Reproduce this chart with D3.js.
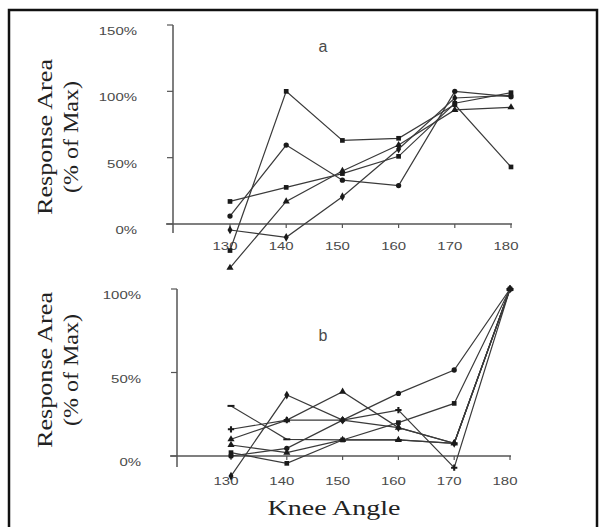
<!DOCTYPE html>
<html>
<head>
<meta charset="utf-8">
<script src="https://cdn.jsdelivr.net/npm/d3@7"></script>
<style>
  body { margin: 0; background: #fff; }
  .tick-label { font-family: "Liberation Sans", Arial, sans-serif; font-size: 11.5px; fill: #4a4a4a; }
  .axis-title { font-family: "Liberation Serif", "DejaVu Serif", serif; font-size: 21px; fill: #222; }
  .panel-letter { font-family: "Liberation Sans", Arial, sans-serif; font-size: 16px; fill: #4a4a4a; }
</style>
</head>
<body>
<div id="chart"></div>
<script>
// knee angles shared by both panels
const angles = [130, 140, 150, 160, 170, 180];

// panel a, response area in % of max
const seriesA = [
  [17, 27.6, 38, 51, 91, 99],
  [6, 59.5, 33, 29, 100, 96],
  [-20, 100, 63, 64.6, 90, 43],
  [-33, 17, 40, 59.5, 86, 88],
  [-4.5, -10, 20.6, 56.5, 95, 97]
];
const symbolsA = ["square", "circle", "square", "triangle", "diamond"];
const ticksA = [0, 50, 100, 150];

// panel b
const seriesB = [
  [30, 10, 9.6, 9.6, 7.6, 100],
  [16, 21.5, 21.5, 27.5, -7, 100],
  [6.6, 2, 9.6, 9.6, 7.6, 100],
  [0, 4.6, 21.5, 37.5, 51.5, 100],
  [-12, 36.5, 21.5, 17, 7.6, 100],
  [2, -4.4, 9.6, 20, 31.5, 100],
  [10, 21.5, 38.5, 17, 7.6, 100]
];
const symbolsB = ["dash", "cross", "triangle", "circle", "diamond", "square", "triangle"];
const ticksB = [0, 50, 100];

const width = 605, height = 527;

let svg = d3.select("#chart").append("svg")
  .attr("width", width)
  .attr("height", height);

// outer frame
svg.append("rect")
  .attr("x", 9).attr("y", 10)
  .attr("width", 588).attr("height", 540)
  .attr("fill", "none")
  .attr("stroke", "#111")
  .attr("stroke-width", 2.5);

const symbolTypes = {
  square: d3.symbolSquare,
  circle: d3.symbolCircle,
  triangle: d3.symbolTriangle,
  diamond: d3.symbolDiamond,
  cross: d3.symbolCross
};

// the tick font in the picture is wide, so stretch it a bit
function tickText(sel, tx, ty, anchor) {
  sel.attr("class", "tick-label")
    .attr("text-anchor", anchor)
    .attr("transform", (d, i) => "translate(" + tx(d) + "," + ty(d) + ") scale(1.3,1)");
}

function drawPanel(opts) {
  let x = d3.scaleLinear().domain([130, 180]).range([opts.x0, opts.x1]);
  let y = d3.scaleLinear().domain([0, opts.yMax]).range([opts.y0, opts.yTop]);
  let g = svg.append("g");

  // axes, drawn by hand to get the overhanging ends
  g.append("line")
    .attr("x1", opts.yAxisX).attr("x2", opts.yAxisX)
    .attr("y1", opts.yTop).attr("y2", opts.y0 + opts.overhang)
    .attr("stroke", "#555").attr("stroke-width", 1.5);
  g.append("line")
    .attr("x1", opts.yAxisX - 7).attr("x2", x(180) + 1)
    .attr("y1", opts.y0).attr("y2", opts.y0)
    .attr("stroke", "#555").attr("stroke-width", 1.5);

  g.selectAll(".ytick").data(opts.ticks).enter().append("line")
    .attr("x1", opts.yAxisX - 6).attr("x2", opts.yAxisX)
    .attr("y1", d => y(d)).attr("y2", d => y(d))
    .attr("stroke", "#555").attr("stroke-width", 1.2);
  g.selectAll(".ylab").data(opts.ticks).enter().append("text")
    .call(tickText, () => opts.yAxisX - 36, d => y(d) + 10, "end")
    .text(d => d + "%");

  g.selectAll(".xtick").data(angles).enter().append("line")
    .attr("x1", d => x(d)).attr("x2", d => x(d))
    .attr("y1", opts.y0).attr("y2", opts.y0 + 4)
    .attr("stroke", "#555").attr("stroke-width", 1.2);
  g.selectAll(".xlab").data(angles).enter().append("text")
    .call(tickText, d => x(d) - 5, () => opts.y0 + opts.xLabDy, "middle")
    .text(d => d);

  // series
  let line = d3.line().x((d, i) => x(angles[i])).y(d => y(d));
  opts.series.forEach((s, k) => {
    g.append("path")
      .datum(s)
      .attr("d", line)
      .attr("fill", "none")
      .attr("stroke", "#3a3a3a")
      .attr("stroke-width", 1.2);
    let sym = opts.symbols[k];
    g.selectAll(null).data(s).enter().append("path")
      .attr("transform", (d, i) => "translate(" + x(angles[i]) + "," + y(d) + ")")
      .attr("d", sym === "dash"
        ? "M-3.5,-1H3.5V1H-3.5Z"
        : d3.symbol().type(symbolTypes[sym]).size(22)())
      .attr("fill", "#1a1a1a");
  });

  // panel letter
  g.append("text")
    .attr("class", "panel-letter")
    .attr("x", opts.letterX).attr("y", opts.letterY)
    .attr("text-anchor", "middle")
    .text(opts.letter);

  // y title, two lines
  let cy = opts.titleY;
  g.append("text")
    .attr("class", "axis-title")
    .attr("transform", "translate(52," + cy + ") rotate(-90)")
    .attr("text-anchor", "middle")
    .attr("textLength", 156)
    .attr("lengthAdjust", "spacingAndGlyphs")
    .text("Response Area");
  g.append("text")
    .attr("class", "axis-title")
    .attr("transform", "translate(78," + cy + ") rotate(-90)")
    .attr("text-anchor", "middle")
    .attr("textLength", 112)
    .attr("lengthAdjust", "spacingAndGlyphs")
    .text("(% of Max)");
}

drawPanel({
  series: seriesA, symbols: symbolsA, ticks: ticksA, yMax: 150,
  x0: 230, x1: 511, y0: 224, yTop: 25, yAxisX: 173, overhang: 9, xLabDy: 26,
  letter: "a", letterX: 323, letterY: 52, titleY: 137
});

drawPanel({
  series: seriesB, symbols: symbolsB, ticks: ticksB, yMax: 100,
  x0: 231, x1: 510, y0: 456, yTop: 289, yAxisX: 177, overhang: 11, xLabDy: 29,
  letter: "b", letterX: 323, letterY: 341, titleY: 370
});

svg.append("text")
  .attr("class", "axis-title")
  .attr("x", 334).attr("y", 515)
  .attr("text-anchor", "middle")
  .attr("textLength", 133)
  .attr("lengthAdjust", "spacingAndGlyphs")
  .text("Knee Angle");
</script>
</body>
</html>
